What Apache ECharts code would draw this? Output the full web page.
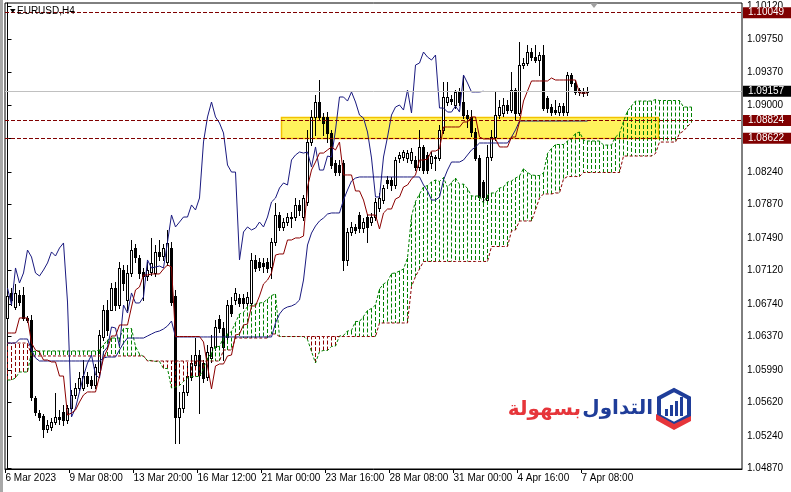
<!DOCTYPE html>
<html><head><meta charset="utf-8">
<script src="https://cdn.jsdelivr.net/npm/echarts@6/dist/echarts.min.js"></script>
<style>html,body{margin:0;padding:0;background:#fff;}#c{width:791px;height:492px;}</style>
</head><body><div id="c"></div>
<script>
// ---- axis labels ----
const xTickBars = [0,16,32,48,64,80,96,112,128,144];
const xTickLabels = ['6 Mar 2023','9 Mar 08:00','13 Mar 20:00','16 Mar 12:00','21 Mar 00:00','23 Mar 16:00','28 Mar 08:00','31 Mar 00:00','4 Apr 16:00','7 Apr 08:00'];
const yTicks = [1.10120,1.09750,1.09370,1.09000,1.08620,1.08240,1.07870,1.07490,1.07120,1.06740,1.06370,1.05990,1.05620,1.05240,1.04870];

// ---- EURUSD H4 candles ----
const open = [1.06580,1.06864,1.06705,1.06841,1.06841,1.06580,1.06557,1.05670,1.05500,1.05466,
1.05318,1.05341,1.05398,1.05455,1.05511,1.05420,1.05557,1.05705,1.05784,1.05784,
1.05920,1.05875,1.05818,1.05966,1.06364,1.06670,1.06670,1.06920,1.06727,1.07125,
1.06784,1.07091,1.07375,1.07261,1.07102,1.07057,1.07102,1.07091,1.07330,1.07284,
1.07216,1.07375,1.06830,1.05455,1.05557,1.05739,1.05909,1.06045,1.06159,1.06068,
1.05909,1.06125,1.06250,1.06568,1.06466,1.06364,1.06727,1.06784,1.06807,1.06807,
1.06750,1.06750,1.07239,1.07216,1.07205,1.07216,1.07159,1.07443,1.07750,1.07614,
1.07670,1.07716,1.07727,1.07864,1.07727,1.07898,1.08580,1.08864,1.09034,1.08864,
1.08864,1.08682,1.08341,1.08318,1.08341,1.07239,1.07557,1.07614,1.07750,1.07602,
1.07727,1.07670,1.07727,1.07830,1.07920,1.08148,1.08148,1.08091,1.08398,1.08409,
1.08398,1.08375,1.08375,1.08295,1.08523,1.08432,1.08341,1.08398,1.08398,1.08716,
1.09034,1.09068,1.09000,1.09148,1.09034,1.08886,1.08864,1.08693,1.08398,1.08125,
1.07920,1.08409,1.08636,1.08886,1.08909,1.09000,1.08943,1.09170,1.08909,1.09454,
1.09477,1.09602,1.09545,1.09511,1.09568,1.09079,1.08977,1.08943,1.08920,1.08989,
1.08920,1.09341,1.09250,1.09170,1.09136,1.09148];
const high = [1.06898,1.06920,1.06966,1.06898,1.06932,1.06602,1.06614,1.05693,1.05534,1.05489,
1.05420,1.05443,1.05727,1.05534,1.05591,1.05591,1.05761,1.05841,1.05966,1.06102,
1.05966,1.05920,1.06057,1.06443,1.06727,1.06784,1.06977,1.06989,1.07216,1.07182,
1.07182,1.07466,1.07420,1.07295,1.07148,1.07216,1.07489,1.07409,1.07466,1.07420,
1.07580,1.07443,1.06898,1.05739,1.05818,1.06045,1.06159,1.06352,1.06216,1.06102,
1.06273,1.06386,1.06557,1.06614,1.06534,1.06784,1.06818,1.06920,1.06852,1.06852,
1.06875,1.07318,1.07295,1.07261,1.07261,1.07261,1.07489,1.07886,1.07784,1.07716,
1.07773,1.07784,1.07943,1.07920,1.07977,1.08716,1.08943,1.09114,1.09284,1.08909,
1.08920,1.08716,1.08375,1.08375,1.08375,1.07602,1.07670,1.07648,1.07784,1.07716,
1.07761,1.07773,1.07943,1.08000,1.08091,1.08193,1.08182,1.08409,1.08466,1.08489,
1.08489,1.08511,1.08420,1.08716,1.08545,1.08466,1.08466,1.08432,1.08773,1.09261,
1.09261,1.09114,1.09170,1.09193,1.09341,1.08943,1.08943,1.08739,1.08432,1.08148,
1.08545,1.08716,1.09148,1.09057,1.09079,1.09057,1.09375,1.09193,1.09716,1.09534,
1.09682,1.09648,1.09682,1.09602,1.09682,1.09102,1.09011,1.09057,1.09023,1.09023,
1.09375,1.09363,1.09284,1.09193,1.09193,1.09204];
const low = [1.06534,1.06727,1.06682,1.06727,1.06557,1.06534,1.05648,1.05477,1.05420,1.05227,
1.05284,1.05307,1.05375,1.05375,1.05364,1.05386,1.05534,1.05670,1.05761,1.05761,
1.05807,1.05784,1.05784,1.05932,1.06330,1.06386,1.06727,1.06670,1.06693,1.06898,
1.06670,1.07057,1.07216,1.07034,1.06784,1.07011,1.07068,1.07057,1.07239,1.07239,
1.07182,1.06727,1.05159,1.05159,1.05511,1.05705,1.05875,1.06011,1.05500,1.05852,
1.05875,1.06080,1.06216,1.06420,1.06102,1.06330,1.06602,1.06739,1.06716,1.06693,
1.06716,1.06716,1.07114,1.07125,1.07102,1.07102,1.07034,1.07409,1.07580,1.07580,
1.07636,1.07614,1.07693,1.07750,1.07693,1.07864,1.08545,1.08659,1.08830,1.08659,
1.08580,1.08284,1.08205,1.08205,1.07125,1.07182,1.07523,1.07545,1.07557,1.07557,
1.07443,1.07636,1.07693,1.07795,1.07886,1.08057,1.08034,1.08057,1.08352,1.08375,
1.08352,1.08341,1.08261,1.08261,1.08227,1.08227,1.08284,1.08261,1.08375,1.08682,
1.09000,1.09011,1.08966,1.09000,1.08852,1.08750,1.08648,1.08375,1.07920,1.07886,
1.07898,1.08375,1.08602,1.08852,1.08875,1.08909,1.08920,1.08830,1.08886,1.09420,
1.09454,1.09511,1.09489,1.09341,1.08943,1.08920,1.08886,1.08898,1.08886,1.08886,
1.08886,1.09216,1.09125,1.09114,1.09102,1.09114];
const close = [1.06830,1.06784,1.06864,1.06761,1.06580,1.06557,1.05682,1.05511,1.05455,1.05318,
1.05364,1.05398,1.05455,1.05432,1.05420,1.05557,1.05705,1.05784,1.05898,1.05920,
1.05841,1.05818,1.06023,1.06386,1.06670,1.06443,1.06920,1.06727,1.07148,1.06977,
1.07091,1.07352,1.07273,1.07091,1.07057,1.07125,1.07205,1.07330,1.07284,1.07375,
1.07432,1.06761,1.05455,1.05557,1.05739,1.05920,1.06068,1.06159,1.05932,1.05898,
1.06193,1.06250,1.06477,1.06466,1.06250,1.06727,1.06636,1.06864,1.06750,1.06750,
1.06818,1.07239,1.07148,1.07159,1.07170,1.07148,1.07443,1.07750,1.07614,1.07670,
1.07727,1.07727,1.07864,1.07807,1.07943,1.08580,1.08864,1.09034,1.08864,1.08795,
1.08682,1.08318,1.08238,1.08238,1.07239,1.07557,1.07614,1.07580,1.07602,1.07670,
1.07614,1.07727,1.07898,1.07943,1.08057,1.08114,1.08091,1.08375,1.08432,1.08466,
1.08454,1.08466,1.08295,1.08523,1.08261,1.08261,1.08420,1.08409,1.08716,1.09091,
1.09091,1.09045,1.09148,1.09034,1.08886,1.08852,1.08693,1.08398,1.07955,1.07955,
1.08409,1.08636,1.08886,1.08977,1.09000,1.08943,1.09170,1.08909,1.09454,1.09477,
1.09602,1.09545,1.09511,1.09568,1.08966,1.08966,1.08920,1.08920,1.08989,1.08920,
1.09341,1.09250,1.09148,1.09148,1.09148,1.09157];

// ---- Ichimoku lines ----
const tenkan = [1.06409,1.06409,1.06409,1.06580,1.06580,1.06580,1.06295,1.06216,1.06193,1.06102,
1.06102,1.06080,1.06080,1.05920,1.05920,1.05477,1.05500,1.05534,1.05625,1.05705,
1.05739,1.05739,1.05739,1.05920,1.06125,1.06227,1.06375,1.06375,1.06500,1.06500,
1.06500,1.06705,1.06898,1.06932,1.07068,1.07068,1.07080,1.07080,1.07080,1.07136,
1.07182,1.07159,1.06369,1.06369,1.06369,1.06369,1.06369,1.06369,1.06369,1.06307,
1.06034,1.05773,1.06034,1.06057,1.06057,1.06148,1.06159,1.06386,1.06398,1.06500,
1.06511,1.06716,1.06716,1.06830,1.06966,1.07011,1.07091,1.07295,1.07307,1.07307,
1.07466,1.07466,1.07489,1.07489,1.07511,1.08068,1.08261,1.08352,1.08454,1.08454,
1.08489,1.08523,1.08489,1.08579,1.08205,1.08205,1.08205,1.08023,1.08023,1.07920,
1.07750,1.07750,1.07750,1.07591,1.07773,1.07818,1.07818,1.07932,1.07955,1.08068,
1.08091,1.08159,1.08205,1.08375,1.08375,1.08386,1.08477,1.08477,1.08500,1.08750,
1.08750,1.08750,1.08750,1.08750,1.08807,1.08807,1.08864,1.08864,1.08636,1.08614,
1.08614,1.08614,1.08614,1.08523,1.08523,1.08523,1.08636,1.08636,1.08807,1.09045,
1.09159,1.09273,1.09273,1.09273,1.09273,1.09273,1.09307,1.09284,1.09284,1.09284,
1.09284,1.09284,1.09284,1.09136,1.09136,1.09136];
const kijun = [1.06295,1.06295,1.06295,1.06341,1.06341,1.06341,1.06216,1.06125,1.06091,1.06091,
1.06091,1.06091,1.06091,1.06091,1.06091,1.06091,1.06091,1.06091,1.06091,1.06091,
1.06091,1.06091,1.06091,1.06091,1.06125,1.06136,1.06136,1.06136,1.06216,1.06295,
1.06352,1.06352,1.06352,1.06352,1.06352,1.06375,1.06398,1.06420,1.06432,1.06455,
1.06489,1.06545,1.06364,1.06364,1.06364,1.06364,1.06364,1.06364,1.06364,1.06364,
1.06364,1.06364,1.06364,1.06364,1.06364,1.06364,1.06364,1.06364,1.06364,1.06364,
1.06364,1.06364,1.06364,1.06364,1.06364,1.06364,1.06364,1.06523,1.06625,1.06682,
1.06705,1.06716,1.06739,1.06784,1.07011,1.07409,1.07545,1.07625,1.07682,1.07716,
1.07761,1.07773,1.07773,1.07773,1.07920,1.08034,1.08136,1.08170,1.08182,1.08182,
1.08182,1.08182,1.08182,1.08182,1.08182,1.08182,1.08182,1.08182,1.08182,1.08182,
1.08182,1.08182,1.08182,1.08182,1.08091,1.08023,1.07920,1.07920,1.07955,1.08148,
1.08261,1.08352,1.08352,1.08352,1.08375,1.08432,1.08489,1.08523,1.08568,1.08568,
1.08568,1.08568,1.08568,1.08568,1.08568,1.08568,1.08636,1.08716,1.08818,1.08818,
1.08818,1.08818,1.08818,1.08818,1.08818,1.08818,1.08818,1.08818,1.08818,1.08818,
1.08818,1.08818,1.08818,1.08818,1.08818,1.08818];
const spanA = [1.05875,1.05875,1.05898,1.05966,1.05966,1.05966,1.06193,1.06205,1.06205,1.06205,
1.06205,1.06205,1.06205,1.06205,1.06205,1.06205,1.06205,1.06205,1.06205,1.06205,
1.06205,1.06205,1.06205,1.06216,1.06273,1.06330,1.06352,1.06352,1.06352,1.06460,
1.06460,1.06460,1.06256,1.06170,1.06142,1.06097,1.06097,1.06085,1.06085,1.06006,
1.06006,1.05784,1.05795,1.05812,1.05858,1.05898,1.05915,1.05915,1.05915,1.06006,
1.06125,1.06182,1.06256,1.06256,1.06358,1.06398,1.06426,1.06528,1.06625,1.06642,
1.06710,1.06722,1.06739,1.06750,1.06756,1.06795,1.06835,1.06852,1.06369,1.06369,
1.06369,1.06369,1.06369,1.06369,1.06369,1.06335,1.06199,1.06068,1.06199,1.06210,
1.06210,1.06256,1.06261,1.06375,1.06381,1.06432,1.06438,1.06540,1.06540,1.06597,
1.06665,1.06688,1.06727,1.06909,1.06966,1.06994,1.07085,1.07091,1.07114,1.07136,
1.07261,1.07739,1.07903,1.07988,1.08068,1.08085,1.08125,1.08148,1.08131,1.08176,
1.08062,1.08119,1.08170,1.08097,1.08102,1.08051,1.07966,1.07966,1.07966,1.07886,
1.07977,1.08000,1.08000,1.08057,1.08068,1.08125,1.08136,1.08170,1.08193,1.08278,
1.08233,1.08205,1.08199,1.08199,1.08227,1.08449,1.08506,1.08551,1.08551,1.08551,
1.08591,1.08619,1.08676,1.08693,1.08602,1.08591,1.08591,1.08591,1.08591,1.08545,
1.08545,1.08545,1.08636,1.08676,1.08812,1.08932,1.08989,1.09045,1.09045,1.09045,
1.09045,1.09045,1.09062,1.09051,1.09051,1.09051,1.09051,1.09051,1.09051,1.08977,
1.08977,1.08977];
const spanB = [1.06295,1.06295,1.06295,1.06295,1.06295,1.06295,1.06148,1.06148,1.06148,1.06148,
1.06148,1.06148,1.06148,1.06148,1.06148,1.06148,1.06148,1.06148,1.06148,1.06148,
1.06148,1.06148,1.06148,1.06148,1.06148,1.06148,1.06148,1.06148,1.06148,1.06148,
1.06148,1.06148,1.06148,1.06148,1.06148,1.06091,1.06091,1.06091,1.06091,1.06091,
1.06091,1.06091,1.06091,1.06091,1.06091,1.06091,1.06091,1.06091,1.06091,1.06091,
1.06091,1.06091,1.06091,1.06091,1.06216,1.06216,1.06216,1.06352,1.06352,1.06352,
1.06352,1.06352,1.06352,1.06352,1.06352,1.06352,1.06398,1.06398,1.06369,1.06369,
1.06369,1.06369,1.06369,1.06369,1.06369,1.06369,1.06369,1.06369,1.06369,1.06369,
1.06369,1.06369,1.06369,1.06369,1.06369,1.06369,1.06369,1.06369,1.06369,1.06369,
1.06369,1.06369,1.06369,1.06523,1.06523,1.06523,1.06523,1.06523,1.06523,1.06523,
1.06523,1.06937,1.07051,1.07136,1.07222,1.07222,1.07222,1.07222,1.07222,1.07222,
1.07222,1.07222,1.07222,1.07222,1.07222,1.07222,1.07222,1.07222,1.07222,1.07222,
1.07222,1.07392,1.07392,1.07392,1.07392,1.07392,1.07568,1.07580,1.07682,1.07682,
1.07682,1.07682,1.07807,1.07943,1.07989,1.07989,1.07989,1.08000,1.08000,1.08159,
1.08187,1.08187,1.08187,1.08187,1.08233,1.08233,1.08233,1.08233,1.08233,1.08233,
1.08233,1.08233,1.08233,1.08233,1.08420,1.08420,1.08420,1.08420,1.08420,1.08420,
1.08420,1.08420,1.08449,1.08579,1.08579,1.08579,1.08579,1.08579,1.08676,1.08704,
1.08756,1.08801];
const CHIKOU_SHIFT = 26;

// ---- drawn objects ----
const levelLines = [1.10049, 1.08824, 1.08622];
const bidPrice = 1.09157;
const zone = [68.25, 1.08862, 162.5, 1.08622];

const FONT = '"Liberation Sans", Arial, sans-serif';
const GREEN = '#008000', DARKRED = '#8B0000', NAVY = '#1A1A80';
const chart = echarts.init(document.getElementById('c'), null, {renderer: 'canvas'});

const candleData = open.map((o, i) => [i, o, high[i], low[i], close[i]]);
const chikou = close.slice(CHIKOU_SHIFT).map((c, k) => [k, c]);
const xTickPos = xTickBars.map(b => b - 0.5);

// cloud hatch: one vertical segment per bar between Senkou A and B (broken by empty points)
const hatchUp = [], hatchDown = [];
spanA.forEach((a, d) => {
  const b = spanB[d];
  if (a === b) return;
  (a > b ? hatchUp : hatchDown).push([d, a], [d, b], [d, '-']);
});

function lineSeries(name, arr, color, dash, z) {
  return {
    type: 'line', name, data: arr, showSymbol: false, symbol: 'none', z,
    lineStyle: {color, width: 1, type: dash || 'solid'}, itemStyle: {color},
    silent: true, animation: false, connectNulls: false
  };
}

const option = {
  animation: false,
  backgroundColor: '#fff',
  grid: {left: 5, top: 3, width: 737, height: 466, show: true, borderColor: '#000', borderWidth: 1,
    backgroundColor: '#fff', containLabel: false, outerBoundsMode: 'none'},
  xAxis: {
    type: 'value', min: -0.625, max: 183.625,
    splitLine: {show: false},
    axisLine: {show: true, lineStyle: {color: '#000', width: 1}},
    axisTick: {show: true, customValues: xTickPos, length: 4, lineStyle: {color: '#000'}},
    axisLabel: {
      customValues: xTickPos, align: 'left', margin: 4, color: '#000', fontSize: 10, fontFamily: FONT,
      formatter: v => xTickLabels[Math.round((v + 0.5) / 16)]
    }
  },
  yAxis: {
    type: 'value', position: 'right', min: 1.048636, max: 1.101591,
    splitLine: {show: false},
    axisLine: {show: true, lineStyle: {color: '#000', width: 1}},
    axisTick: {show: true, customValues: yTicks, length: 4, lineStyle: {color: '#000'}},
    axisLabel: {customValues: yTicks, margin: 5, color: '#000', fontSize: 10, fontFamily: FONT,
      formatter: v => v.toFixed(5)}
  },
  series: [
    { // yellow zone
      type: 'custom', name: 'zone', z: 1, silent: true, data: [zone],
      encode: {x: [0, 2], y: [1, 3]},
      renderItem(params, api) {
        const p1 = api.coord([api.value(0), api.value(1)]);
        const p2 = api.coord([api.value(2), api.value(3)]);
        const x = Math.round(p1[0]) + 0.5, y = Math.round(p1[1]) + 0.5;
        return {type: 'rect', shape: {x, y, width: Math.round(p2[0] - p1[0]), height: Math.round(p2[1] - p1[1])},
          style: {fill: '#FFF35C', stroke: '#F2C200', lineWidth: 1.5}};
      }
    },
    { // candles
      type: 'custom', name: 'EURUSD', z: 2, silent: true, data: candleData,
      encode: {x: 0, y: [1, 2, 3, 4]},
      renderItem(params, api) {
        const i = api.value(0), o = api.value(1), h = api.value(2), l = api.value(3), c = api.value(4);
        const pH = api.coord([i, h]), pL = api.coord([i, l]), pO = api.coord([i, o]), pC = api.coord([i, c]);
        const x = Math.floor(pH[0]);
        const yh = Math.round(pH[1]), yl = Math.round(pL[1]);
        const top = Math.round(Math.min(pO[1], pC[1])), bot = Math.round(Math.max(pO[1], pC[1]));
        const children = [{type: 'rect', shape: {x: x, y: yh, width: 1, height: yl - yh + 1}, style: {fill: '#000'}}];
        children.push({type: 'rect', shape: {x: x - 1, y: top, width: 3, height: Math.max(bot - top, 0) + 1}, style: {fill: '#000'}});
        if (c >= o && bot - top >= 2) {
          children.push({type: 'rect', shape: {x: x, y: top + 1, width: 1, height: bot - top - 1}, style: {fill: '#fff'}});
        }
        return {type: 'group', children};
      }
    },
    lineSeries('Cloud up', hatchUp, GREEN, [4, 2], 3),
    lineSeries('Cloud down', hatchDown, DARKRED, [4, 2], 3),
    lineSeries('Senkou A', spanA.map((v, d) => [d, v]), GREEN, [3, 2], 3),
    lineSeries('Senkou B', spanB.map((v, d) => [d, v]), DARKRED, [3, 2], 3),
    lineSeries('Chikou', chikou, NAVY, null, 4),
    lineSeries('Kijun', kijun.map((v, i) => [i, v]), NAVY, null, 4),
    Object.assign(lineSeries('Tenkan', tenkan.map((v, i) => [i, v]), DARKRED, null, 4), {
      markLine: {
        silent: true, symbol: ['none', 'none'], animation: false, precision: 5,
        data: levelLines.map(v => ({
          yAxis: v,
          lineStyle: {color: '#800000', type: [4, 2], width: 1},
          label: {show: true, position: 'end', distance: 1, formatter: () => v.toFixed(5),
            color: '#fff', backgroundColor: '#800000', padding: [1, 8, 0, 5], fontSize: 10, fontFamily: FONT}
        })).concat([{
          yAxis: bidPrice,
          lineStyle: {color: '#C0C0C0', type: 'solid', width: 1},
          label: {show: true, position: 'end', distance: 1, formatter: () => bidPrice.toFixed(5),
            color: '#fff', backgroundColor: '#000', padding: [1, 8, 0, 5], fontSize: 10, fontFamily: FONT}
        }])
      }
    })
  ],
  graphic: [
    {type: 'rect', left: 0, top: 0, shape: {width: 3, height: 492}, style: {fill: '#A8A8A8'}, silent: true},
    {type: 'polygon', shape: {points: [[10, 9], [15.5, 9], [12.75, 13]]}, style: {fill: '#000'}, silent: true, z: 10},
    {type: 'text', x: 17, y: 11, style: {text: 'EURUSD,H4', font: '10px ' + FONT, fill: '#000', verticalAlign: 'middle'}, silent: true, z: 10},
    {type: 'polygon', shape: {points: [[590, 3], [598, 3], [594, 8]]}, style: {fill: '#A0A0A0'}, silent: true, z: 10},
    {type: 'group', silent: true, z: 0, children: [
      {type: 'text', style: {text: 'التداول', x: 653, y: 409, align: 'right', verticalAlign: 'middle',
        font: 'bold 20px "DejaVu Sans"', fill: '#1F3D99'}},
      {type: 'text', style: {text: 'بسهولة', x: 581, y: 410, align: 'right', verticalAlign: 'middle',
        font: 'bold 20px "DejaVu Sans"', fill: '#E6353A'}},
      {type: 'polygon', shape: {points: [[674, 390], [689, 398], [689, 416], [674, 424], [659, 416], [659, 398]]},
        style: {fill: 'none', stroke: '#1F3D99', lineWidth: 4}},
      {type: 'rect', shape: {x: 665, y: 409, width: 3, height: 7}, style: {fill: '#1F3D99'}},
      {type: 'rect', shape: {x: 670, y: 405, width: 3, height: 11}, style: {fill: '#1F3D99'}},
      {type: 'rect', shape: {x: 675, y: 401, width: 3, height: 15}, style: {fill: '#1F3D99'}},
      {type: 'rect', shape: {x: 680, y: 397, width: 3, height: 19}, style: {fill: '#1F3D99'}},
      {type: 'polygon', shape: {points: [[656, 414], [674, 424], [691, 416], [691, 421], [674, 430], [656, 420]]},
        style: {fill: '#E6353A'}}
    ]}
  ]
};
chart.setOption(option);
</script>
</body></html>
